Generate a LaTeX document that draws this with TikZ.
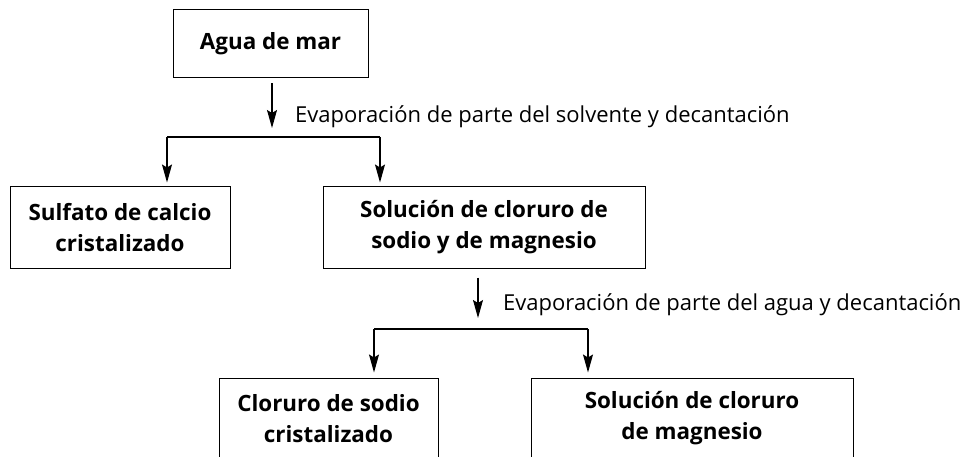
\documentclass[tikz,border=0pt]{standalone}
\usepackage{fontspec}
\setmainfont{Open Sans}
\usetikzlibrary{arrows.meta}
\begin{document}
\begin{tikzpicture}[x=1pt,y=-1pt,
  box/.style={draw, line width=1pt, minimum width=#1, minimum height=81pt, align=center, inner sep=0pt, font=\fontsize{22.4}{31}\bfseries\selectfont},
  arr/.style={line width=1.1pt, -{Stealth[length=18pt,width=10pt,inset=3pt]}},
  branch/.style={line width=1.6pt},
  lbl/.style={anchor=base west, inner sep=0pt, font=\fontsize{22}{26}\selectfont}]
\useasboundingbox (0,0) rectangle (966,457);
\clip (0,0) rectangle (966,457);
\node[box=195pt, minimum height=68pt] (agua) at (270.5,44) {Agua de mar};
\node[box=220pt] (sulf) at (120,227.5) {Sulfato de calcio\\cristalizado};
\node[box=322pt] (solA) at (484,227.5) {Solución de cloruro de\\sodio y de magnesio};
\node[box=219pt] (clor) at (328.5,418.5) {Cloruro de sodio\\cristalizado};
\node[box=322pt] (solB) at (692,418.5) {Solución de cloruro\\de magnesio};
\coordinate (j1) at (272,137);
\coordinate (j1l) at (167,137);
\coordinate (j1r) at (380,137);
\draw[arr, shorten <=5pt, shorten >=9pt] (agua.south -| j1) -- (j1);
\draw[branch] (j1l) -- (j1r);
\draw[arr, shorten >=4pt] (j1l) -- (j1l |- sulf.north);
\draw[arr, shorten >=4pt] (j1r) -- (j1r |- solA.north);
\node[lbl] (l1) at (295,123) {Evaporación de parte del solvente y decantación};
\coordinate (j2) at (478,329);
\coordinate (j2l) at (374,329);
\coordinate (j2r) at (588,329);
\draw[arr, shorten <=9pt, shorten >=11pt] (solA.south -| j2) -- (j2);
\draw[branch] (j2l) -- (j2r);
\draw[arr, shorten >=5pt] (j2l) -- (j2l |- clor.north);
\draw[arr, shorten >=5pt] (j2r) -- (j2r |- solB.north);
\node[lbl] (l2) at (503,310) {Evaporación de parte del agua y decantación};
\end{tikzpicture}
\end{document}
